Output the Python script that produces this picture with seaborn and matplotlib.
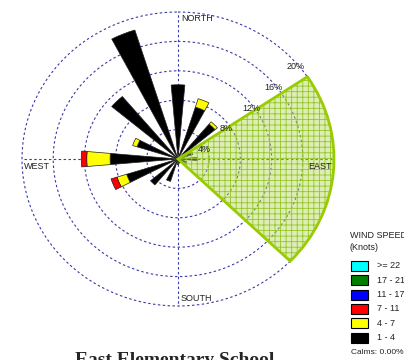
import numpy as np
import matplotlib
matplotlib.use("Agg")
import matplotlib.pyplot as plt
from matplotlib.patches import Rectangle
import seaborn as sns

# Wind rose data: frequency (%) per direction for each speed class
directions = ["N", "NNE", "NE", "ENE", "E", "ESE", "SE", "SSE",
              "S", "SSW", "SW", "WSW", "W", "WNW", "NW", "NNW"]
speed_1_4 = [10.1, 7.4, 6.2, 2.0, 2.5, 1.2, 0.5, 0.6,
             0.8, 3.2, 4.6, 6.9, 8.7, 5.5, 11.1, 18.4]
speed_4_7 = [0.0, 1.2, 0.4, 0.0, 0.0, 0.0, 0.0, 0.0,
             0.0, 0.0, 0.0, 1.3, 3.0, 0.6, 0.0, 0.0]
speed_7_11 = [0.0, 0.0, 0.0, 0.0, 0.0, 0.0, 0.0, 0.0,
              0.0, 0.0, 0.0, 0.8, 0.7, 0.0, 0.0, 0.0]
speed_11_17 = [0.0] * 16
speed_17_21 = [0.0] * 16
speed_22_up = [0.0] * 16

legend_labels = [">= 22", "17 - 21", "11 - 17", "7 - 11", "4 - 7", "1 - 4"]
legend_colors = ["#00FFFF", "#008000", "#0000FF", "#FF0000", "#FFFF00", "#000000"]

ring_levels = [4, 8, 12, 16, 20]
sector_deg = [56, 134]      # highlighted direction sector (degrees from north)
sector_radius = 20
calms_pct = 0.00
title = "East Elementary School"

sns.set_theme(style="white")
plt.rcParams["font.family"] = ["Liberation Sans", "DejaVu Sans"]
palette = sns.color_palette(legend_colors)

W, H = 404, 360
fig = plt.figure(figsize=(W / 100, H / 100), dpi=100)
fig.patch.set_facecolor("white")

# polar area: centre (178,159) px, 20% ring = 156 px wide / 147 px tall
rmax = 21
cx, cy = 178, 159
hx, hy = 156 / 20 * rmax, 147 / 20 * rmax
ax = fig.add_axes([(cx - hx) / W, 1 - (cy + hy) / H, 2 * hx / W, 2 * hy / H],
                  projection="polar")
ax.set_theta_zero_location("N")
ax.set_theta_direction(-1)
ax.set_ylim(0, rmax)
ax.set_aspect("auto")
ax.axis("off")

grid_col = "#3a3aa8"
dash = (0, (2.2, 2.2))
tt = np.linspace(0, 2 * np.pi, 400)
for r in ring_levels:
    ax.plot(tt, np.full_like(tt, r), color=grid_col, lw=0.8, ls=dash, zorder=1)
for a in [0, 90, 180, 270]:
    ax.plot([np.deg2rad(a)] * 2, [0, ring_levels[-1]], color=grid_col,
            lw=0.8, ls=dash, zorder=1)

# stacked direction bars
theta = np.deg2rad(np.arange(16) * 22.5)
width = np.deg2rad(10)
stack = [speed_1_4, speed_4_7, speed_7_11, speed_11_17, speed_17_21, speed_22_up]
stack_colors = list(reversed(palette))
bottom = np.zeros(16)
for vals, col in zip(stack, stack_colors):
    v = np.array(vals)
    mask = v > 0
    ax.bar(theta[mask], v[mask], width=width, bottom=bottom[mask], color=col,
           edgecolor="#202020", linewidth=0.5, zorder=2)
    bottom = bottom + v

# highlighted sector
s0, s1 = np.deg2rad(sector_deg[0]), np.deg2rad(sector_deg[1])
mid, span = (s0 + s1) / 2, s1 - s0
plt.rcParams["hatch.linewidth"] = 0.6
ax.bar(mid, sector_radius, width=span, color="#b4d858", alpha=0.45,
       linewidth=0, zorder=3)
ax.bar(mid, sector_radius, width=span, facecolor="none", edgecolor="#94c62a",
       hatch="+++", linewidth=0, zorder=3.1)
ax.bar(mid, sector_radius, width=span, facecolor="none", edgecolor="#99cc00",
       linewidth=2, zorder=3.2)

# compass labels
lab_kw = dict(textcoords="offset pixels", fontsize=6.5, color="#222222", zorder=5)
ax.annotate("NORTH", xy=(0, 20), xytext=(3, -2), ha="left", va="top", **lab_kw)
ax.annotate("WEST", xy=(np.deg2rad(270), 20), xytext=(2, -3), ha="left", va="top", **lab_kw)
ax.annotate("EAST", xy=(np.deg2rad(90), 20), xytext=(-2, -3), ha="right", va="top", **lab_kw)
ax.annotate("SOUTH", xy=(np.pi, 20), xytext=(3, 3), ha="left", va="bottom", **lab_kw)
for r in ring_levels:
    ax.annotate(f"{r}%", xy=(np.deg2rad(45), r), xytext=(-2, -7),
                ha="left", va="top", **lab_kw)

# legend
fig.text(350 / W, 1 - 236 / H, "WIND SPEED", fontsize=6.5, va="center", color="#222222")
fig.text(350 / W, 1 - 248 / H, "(Knots)", fontsize=6.5, va="center", color="#222222")
for i, (lab, col) in enumerate(zip(legend_labels, palette)):
    yc = 266 + i * 14.3
    fig.patches.append(Rectangle((351 / W, 1 - (yc + 5) / H), 17 / W, 10 / H,
                                 transform=fig.transFigure, facecolor=col,
                                 edgecolor="black", linewidth=0.8))
    fig.text(377 / W, 1 - yc / H, lab, fontsize=6.5, va="center", color="#222222")
fig.text(351 / W, 1 - 353 / H, f"Calms: {calms_pct:.2f}%", fontsize=6,
         va="center", color="#222222")

fig.text(175 / W, 1 - 352 / H, title, ha="center", va="top", fontsize=14,
         fontweight="bold", family=["Liberation Serif", "DejaVu Serif"])

fig.savefig("out.png", dpi=100)
